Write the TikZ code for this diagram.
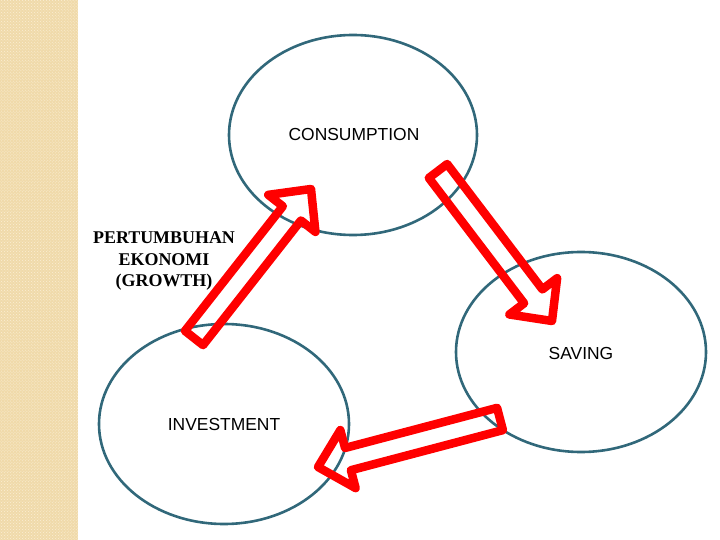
\documentclass[tikz,border=0pt]{standalone}
\usepackage{fontspec}
\setmainfont{Liberation Serif}
\setsansfont{Liberation Sans}
\usetikzlibrary{calc,patterns}

\definecolor{ringblue}{RGB}{49,104,122}
\definecolor{stripbeige}{RGB}{240,218,170}
\definecolor{stripdots}{RGB}{250,238,212}

\tikzset{
  ring/.style={draw=ringblue,line width=2.6bp},
  blockarr/.style={draw=red,line width=8.5bp,line join=round},
  ringtext/.style={font=\sffamily\fontsize{17.5}{21}\selectfont},
}

% hollow block arrow from tail centre #1 to tip #2
\newcommand{\blockarrow}[2]{%
  \path ($(#2)!31bp!(#1)$) coordinate (ab);
  \draw[blockarr] ($(#1)!11.5bp!90:(#2)$) -- ($(ab)!11.5bp!-90:(#1)$)
    -- ($(ab)!30bp!-90:(#1)$) -- (#2) -- ($(ab)!30bp!90:(#1)$)
    -- ($(ab)!11.5bp!90:(#1)$) -- ($(#1)!11.5bp!-90:(#2)$) -- cycle;}

\begin{document}
\begin{tikzpicture}[x=1bp,y=-1bp]
    \useasboundingbox (0,0) rectangle (720,540);
    % side strip
    \fill[stripbeige] (0,0) rectangle (78,540);
    \fill[pattern=crosshatch dots,pattern color=stripdots] (0,0) rectangle (78,540);
    % rings
    \draw[ring] (353,135) ellipse [x radius=124,y radius=100];
    \draw[ring] (581,352) ellipse [x radius=125,y radius=100];
    \draw[ring] (224,424) ellipse [x radius=125,y radius=100];
    \node[ringtext] (cons) at (354,135) {CONSUMPTION};
    \node[ringtext] (save) at (581,353) {SAVING};
    \node[ringtext] (inv) at (224,424) {INVESTMENT};
    \node[align=center,font=\bfseries\fontsize{18}{22}\selectfont] (growth) at (164,261)
      {PERTUMBUHAN\\EKONOMI\\(GROWTH)};
    % arrows
    \coordinate (t1) at (194,338);
    \coordinate (p1) at (311,189);
    \coordinate (t2) at (438,171);
    \coordinate (p2) at (552,321);
    \coordinate (t3) at (500,419);
    \coordinate (p3) at (318,467);
    \blockarrow{t1}{p1}
    \blockarrow{t2}{p2}
    \blockarrow{t3}{p3}
\end{tikzpicture}
\end{document}
